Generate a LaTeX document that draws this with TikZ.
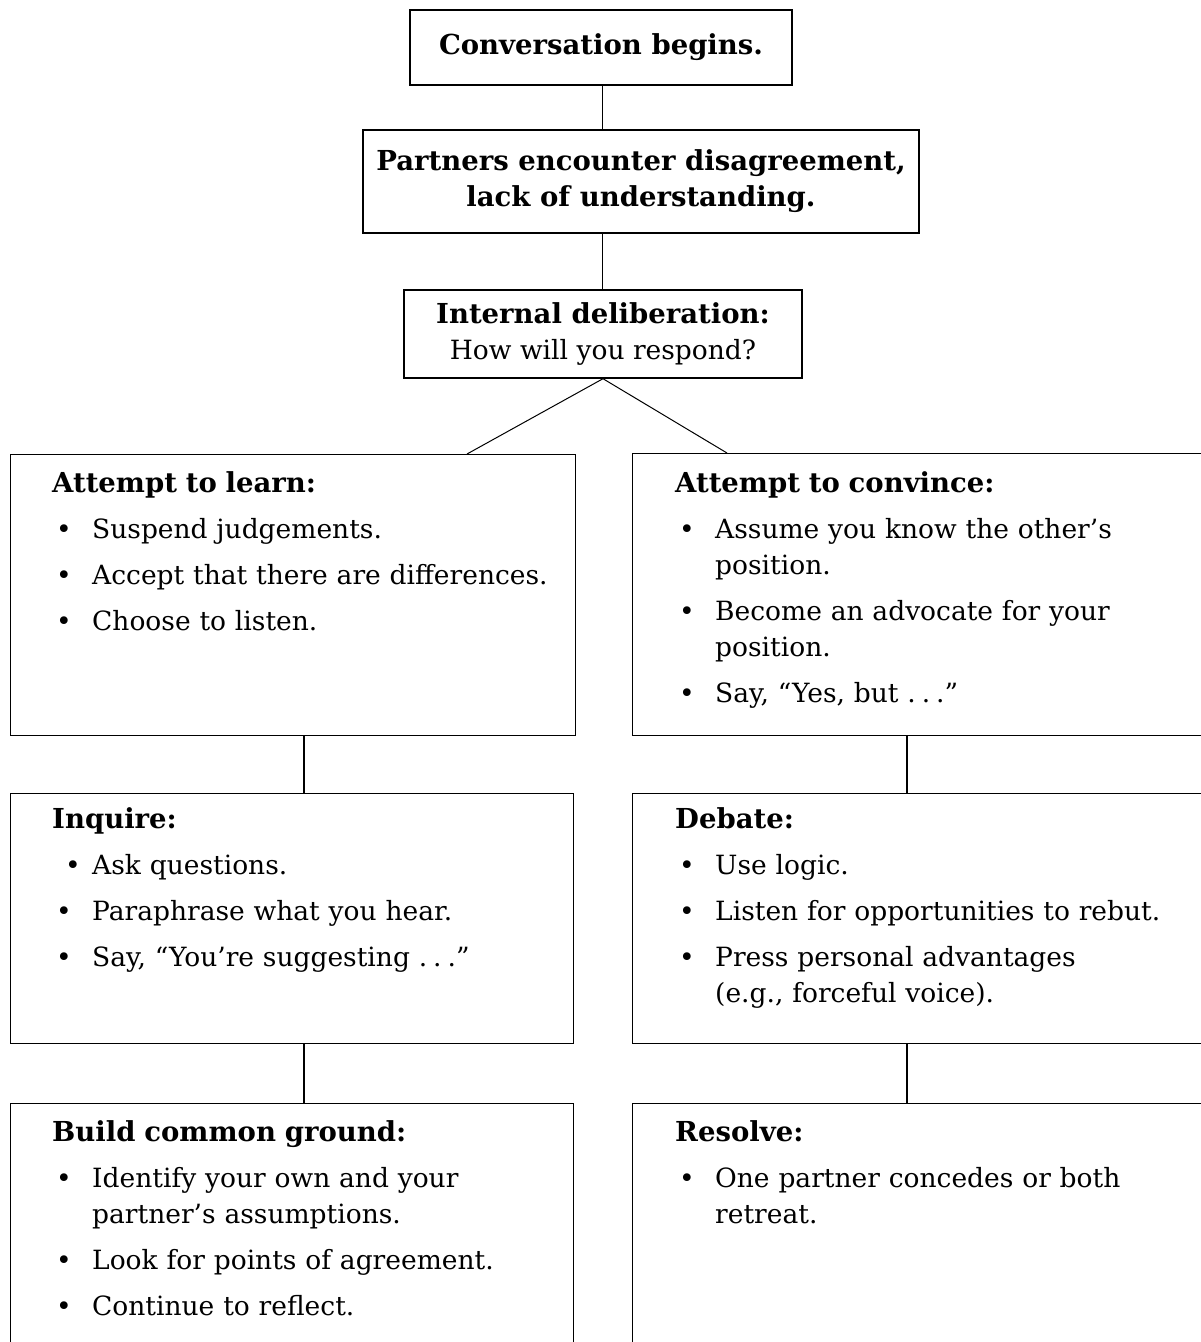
\documentclass[tikz,border=0pt]{standalone}
\usepackage{fontspec}
\setmainfont{DejaVu Serif}
\usetikzlibrary{calc}

% one bulleted entry; continuation lines hang under the text
\newcommand{\itm}[2][4pt]{\par\noindent\hspace*{#1}\makebox[\dimexpr40pt-#1\relax][l]{\textbullet}#2\hangindent=40pt\hangafter=1\relax}
\newcommand{\hd}[1]{\noindent\rule{0pt}{20pt}{\fontsize{27.5}{36}\selectfont\textbf{#1}}}
\newcommand{\spdots}{.\kern6pt.\kern6pt.}

\tikzset{
  boxe/.style={draw, line width=1.4pt, inner sep=0pt, anchor=north west},
  cbox/.style={draw, line width=1.4pt, inner sep=0pt, align=center,
    font=\fontsize{26.5}{36}\selectfont},
  txt/.style={anchor=north west, inner sep=0pt, text width=540pt, align=left,
    font=\fontsize{26.5}{36}\selectfont\setlength{\parskip}{10pt}},
  big/.style={font=\fontsize{27.5}{36}\selectfont\bfseries},
  link/.style={line width=1pt},
  trunk/.style={line width=1.8pt}
}

\begin{document}
\begin{tikzpicture}[x=1pt,y=-1pt]
\useasboundingbox (0,0) rectangle (1201,1342);
\clip (0,0) rectangle (1201,1342);
\fill[white] (0,0) rectangle (1201,1342);

% top chain
\node[cbox, big, minimum width=382pt, minimum height=75pt] (start) at (601,47.5)
  {Conversation begins.};
\node[cbox, big, minimum width=556pt, minimum height=103pt] (clash) at (641,181.5)
  {Partners encounter disagreement,\\lack of understanding.};
\node[cbox, minimum width=398pt, minimum height=88pt] (delib) at (603,334)
  {{\fontsize{27.5}{36}\selectfont\bfseries Internal deliberation:}\\How will you respond?};

% the two branches
\node[boxe, minimum width=565pt, minimum height=281pt] (learn) at (10,454) {};
\node[boxe, minimum width=590pt, minimum height=282pt] (convince) at (632,453) {};
\node[boxe, minimum width=563pt, minimum height=250pt] (inquire) at (10,793) {};
\node[boxe, minimum width=590pt, minimum height=250pt] (debate) at (632,793) {};
\node[boxe, minimum width=563pt, minimum height=270pt] (common) at (10,1103) {};
\node[boxe, minimum width=590pt, minimum height=270pt] (resolve) at (632,1103) {};

\node[txt] (learnT) at (52,471.5) {%
  \hd{Attempt to learn:}
  \itm{Suspend judgements.}
  \itm{Accept that there are differences.}
  \itm{Choose to listen.}\par};
\node[txt] (convinceT) at (675,471.5) {%
  \hd{Attempt to convince:}
  \itm{Assume you know the other’s\newline position.}
  \itm{Become an advocate for your\newline position.}
  \itm{Say, “Yes, but \spdots”}\par};
\node[txt] (inquireT) at (52,807.5) {%
  \hd{Inquire:}
  \itm[13pt]{Ask questions.}
  \itm{Paraphrase what you hear.}
  \itm{Say, “You’re suggesting \spdots”}\par};
\node[txt] (debateT) at (675,807.5) {%
  \hd{Debate:}
  \itm{Use logic.}
  \itm{Listen for opportunities to rebut.}
  \itm{Press personal advantages\newline (e.g., forceful voice).}\par};
\node[txt] (commonT) at (52,1120) {%
  \hd{Build common ground:}
  \itm{Identify your own and your\newline partner’s assumptions.}
  \itm{Look for points of agreement.}
  \itm{Continue to reflect.}\par};
\node[txt] (resolveT) at (675,1120) {%
  \hd{Resolve:}
  \itm{One partner concedes or both\newline retreat.}\par};

% connectors
\coordinate (mid) at (602,0);
\coordinate (lx) at (304,0);
\coordinate (rx) at (907,0);
\coordinate (lfoot) at ([xshift=457pt]learn.north west);
\coordinate (rfoot) at ([xshift=95pt]convince.north west);

\draw[link] (start.south -| mid) -- (clash.north -| mid);
\draw[link] (clash.south -| mid) -- (delib.north -| mid);
\draw[link] (delib.south) -- (lfoot);
\draw[link] (delib.south) -- (rfoot);
\draw[trunk] (learn.south -| lx) -- (inquire.north -| lx);
\draw[trunk] (inquire.south -| lx) -- (common.north -| lx);
\draw[trunk] (convince.south -| rx) -- (debate.north -| rx);
\draw[trunk] (debate.south -| rx) -- (resolve.north -| rx);
\end{tikzpicture}
\end{document}
